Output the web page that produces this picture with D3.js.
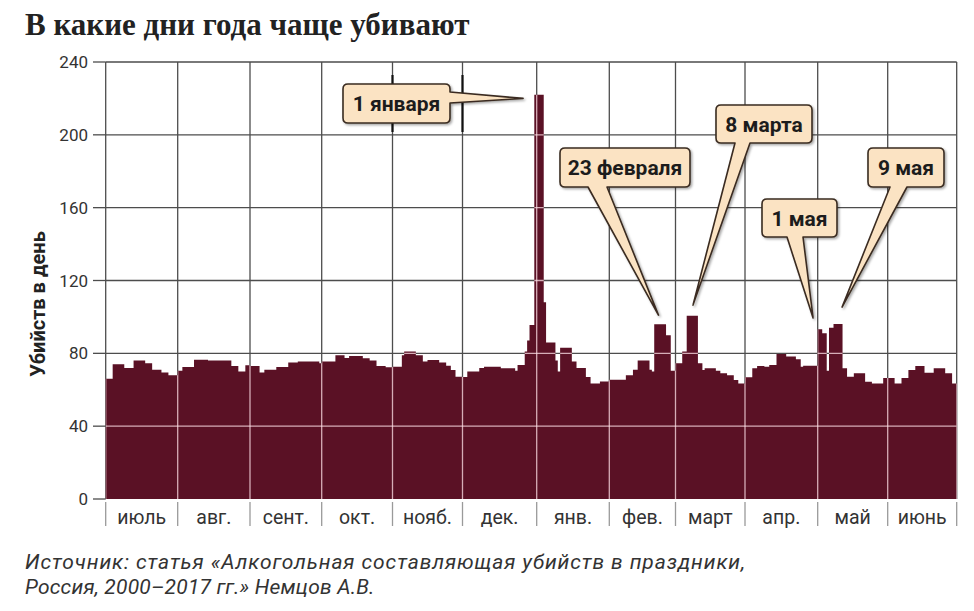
<!DOCTYPE html>
<html lang="ru">
<head>
<meta charset="UTF-8">
<title>В какие дни года чаще убивают</title>
<script src="https://d3js.org/d3.v7.min.js"></script>
<style>
  body { margin: 0; background: #fff; }
  svg text { font-family: Roboto, "Noto Sans", sans-serif; }
  svg text.title { font-family: "Liberation Serif", "DejaVu Serif", serif; }
</style>
</head>
<body>
<svg id="chart" width="974" height="611"></svg>
<script>
// подписи месяцев и число дней (год с июля по июнь)
const months = ["июль", "авг.", "сент.", "окт.", "нояб.", "дек.", "янв.", "фев.", "март", "апр.", "май", "июнь"];
const monthDays = [31, 31, 30, 31, 30, 31, 31, 28, 31, 30, 31, 30];
const yTicks = [0, 40, 80, 120, 160, 200, 240];

// убийств в день, по дням месяца
const jul = [66,66,66,74,74,74,74,74,72,72,72,72,76,76,76,76,76,74.5,74.5,74.5,71,71,71,71,69.5,69.5,69.5,68,68,68,68];
const aug = [70.5,70.5,72.5,72.5,72.5,72.5,72.5,76.5,76.5,76.5,76.5,76.5,76.5,76,76,76,76,76,76,76,76,76,76,73,73,73,70,70,70,73.5,73.5];
const sep = [73,73,73,73,69.5,69.5,71,71,71,71,71,72.5,72.5,72.5,72.5,72.5,75,75,75,75,75.5,75.5,75.5,75.5,75.5,75.5,75.5,75.5,75.5,74.5];
const oct = [75.5,75.5,75.5,75.5,75.5,75.5,79,79,79,79,77.5,77.5,78.5,78.5,78.5,78.5,78.5,78.5,77.3,77.3,77.3,76,76,76,73,73,73,73,72.3,72.3,72.3];
const nov = [72.7,72.7,72.7,72.7,79,81,81,81,81,81,79,79,79,75.5,75.5,76.3,76.3,76.3,76.3,76.3,75,75,75,73.2,73.2,70.8,70.8,67.2,67.2,67.2];
const dec = [67,67,70,70,70,70,70,72,72,72.7,72.7,72.7,72.7,72.7,72.7,72.7,71.8,71.8,71.8,71.8,71.8,71.8,70.5,73.6,73.6,73.6,81,87,95.6,95.6,222];
const jan = [222,222,222,108,86,86,86,86,76,70,83,83,83,83,83,75.5,75.5,72,72,72,72,67,67,63.5,63.5,63.5,63.5,64.5,64.5,64.5,64.5];
const feb = [65.5,65.5,65.5,65.5,65.5,65.5,65.5,68,68,68,71,71,76,76,76,76,76,71,70,96,96,96,96,96,90,90,70.5,70.5];
const mar = [74.5,74.5,74.5,81,81,100.7,100.7,100.7,100.7,100.7,74.5,74.5,70.8,71.8,71.8,71.8,71.8,71.8,70.5,70.5,69,69,69,68,68,68,65.4,65.4,63.5,63.5,63.5];
const apr = [66.8,66.8,66.8,71.8,71.8,73,73,73,72.7,72.7,73.6,73.6,73.6,79.6,79.6,79.6,79.6,78.2,78.2,78.2,78.2,76.7,76.7,72.7,73.2,73.2,73.2,73.2,73.2,73.2];
const may = [93.2,93.2,91,91,70.5,94.1,94.1,96.1,96.1,96.1,96.1,71.8,71.8,67.2,67.2,67.2,69,69,69,69,69,64.4,64.4,64.4,63.5,63.5,63.5,63.5,63.5,66.4,66.4];
const jun = [66.4,66.4,66.4,63.5,63.5,63.5,66.4,66.4,66.4,70.8,70.8,70.8,73,73,73,73,69.4,69.4,69.4,69.4,71.8,71.8,71.8,71.8,71.8,69,69,69,63.5,63.5];

// выноски: подпись, день (от 1 июля) и значение, куда указывает хвост
const noteLabels = ["1 января", "23 февраля", "8 марта", "1 мая", "9 мая"];
const noteDays = [178.3, 235.8, 250.8, 302.1, 314.8];
const noteValues = [220, 101, 106.5, 99.4, 105.4];

// раскладка
const plot = {left: 105.7, right: 956.7, top: 62, bottom: 499};
// края месяцев на исходной картинке немного неравномерны
const monthEdgePx = [105.7, 177.7, 250, 321.7, 392.5, 462.5, 536.7, 609.3, 675.5, 745, 817.7, 887.7, 956.7];
const noteBoxes = [
  {x0: 343, y0: 84, x1: 450, y1: 123, side: "right", b0: 92, b1: 103},
  {x0: 560, y0: 148, x1: 690, y1: 187, side: "bottom", b0: 588, b1: 607},
  {x0: 716, y0: 105, x1: 812, y1: 143, side: "bottom", b0: 735, b1: 750},
  {x0: 762, y0: 199, x1: 837, y1: 237, side: "bottom", b0: 787, b1: 803},
  {x0: 868, y0: 148, x1: 944, y1: 187, side: "bottom", b0: 890, b1: 907}
];

const barColor = "#5a1125";
const gridColor = "#4d4d4d";

const values = [jul, aug, sep, oct, nov, dec, jan, feb, mar, apr, may, jun].flat();
const edgesDays = [0];
monthDays.forEach(d => edgesDays.push(edgesDays[edgesDays.length - 1] + d));

const x = d3.scaleLinear().domain(edgesDays).range(monthEdgePx);
const y = d3.scaleLinear().domain([0, 240]).range([plot.bottom, plot.top]);

const svg = d3.select("#chart");
const defs = svg.append("defs");

const f = defs.append("filter").attr("id", "shadow")
  .attr("x", "-20%").attr("y", "-20%").attr("width", "140%").attr("height", "140%");
f.append("feDropShadow").attr("dx", 1.5).attr("dy", 1.5).attr("stdDeviation", 1.2)
  .attr("flood-color", "#000").attr("flood-opacity", 0.35);

// ступенчатая площадь по дням
const stepData = values.concat([values[values.length - 1]]);
const area = d3.area()
  .x((d, i) => x(i))
  .y0(y(0))
  .y1(d => y(d))
  .curve(d3.curveStepAfter);

defs.append("clipPath").attr("id", "barsClip")
  .append("path").attr("d", area(stepData));

function drawGrid(g, color, width) {
  g.selectAll(".h").data(yTicks.filter(t => t > 0)).join("line")
    .attr("x1", plot.left).attr("x2", plot.right)
    .attr("y1", d => y(d)).attr("y2", d => y(d))
    .attr("stroke", color).attr("stroke-width", width);
  g.selectAll(".v").data(edgesDays).join("line")
    .attr("x1", d => x(d)).attr("x2", d => x(d))
    .attr("y1", plot.top).attr("y2", plot.bottom)
    .attr("stroke", color).attr("stroke-width", width);
}

drawGrid(svg.append("g"), gridColor, 1.3);

svg.append("path")
  .attr("d", area(stepData))
  .attr("fill", barColor);

drawGrid(svg.append("g").attr("clip-path", "url(#barsClip)"), "rgba(255,225,232,0.75)", 1.3);

// ось Y
const yAxis = svg.append("g");
yAxis.selectAll("line").data(yTicks).join("line")
  .attr("x1", 93).attr("x2", plot.left)
  .attr("y1", d => y(d)).attr("y2", d => y(d))
  .attr("stroke", gridColor).attr("stroke-width", 1.3);
yAxis.selectAll("text").data(yTicks).join("text")
  .attr("x", 88).attr("y", d => y(d) + 6)
  .attr("text-anchor", "end")
  .attr("font-size", 17).attr("fill", "#333")
  .text(d => d);

svg.append("text")
  .attr("transform", "translate(45,304) rotate(-90)")
  .attr("text-anchor", "middle")
  .attr("font-size", 20).attr("font-weight", "bold").attr("fill", "#222")
  .text("Убийств в день");

// подписи месяцев
const xAxis = svg.append("g");
xAxis.selectAll("line").data(edgesDays).join("line")
  .attr("x1", d => x(d)).attr("x2", d => x(d))
  .attr("y1", plot.bottom + 3).attr("y2", plot.bottom + 27)
  .attr("stroke", "#9a9a9a").attr("stroke-width", 1.3);
xAxis.selectAll("text").data(months).join("text")
  .attr("x", (d, i) => (x(edgesDays[i]) + x(edgesDays[i + 1])) / 2)
  .attr("y", plot.bottom + 25)
  .attr("text-anchor", "middle")
  .attr("font-size", 19.5).attr("fill", "#333")
  .text(d => d);

// тёмные отрезки сетки у выноски «1 января»
svg.selectAll(".mark").data([edgesDays[4], edgesDays[5]]).join("line")
  .attr("x1", d => x(d)).attr("x2", d => x(d))
  .attr("y1", 75).attr("y2", 132)
  .attr("stroke", "#111").attr("stroke-width", 2.2);

// выноски
function calloutPath(b, tx, ty) {
  const r = 5;
  const top = `M${b.x0 + r},${b.y0}H${b.x1 - r}Q${b.x1},${b.y0} ${b.x1},${b.y0 + r}`;
  const left = `H${b.x0 + r}Q${b.x0},${b.y1} ${b.x0},${b.y1 - r}V${b.y0 + r}Q${b.x0},${b.y0} ${b.x0 + r},${b.y0}Z`;
  if (b.side === "right") {
    return top + `V${b.b0}L${tx},${ty}L${b.x1},${b.b1}V${b.y1 - r}Q${b.x1},${b.y1} ${b.x1 - r},${b.y1}` + left;
  }
  return top + `V${b.y1 - r}Q${b.x1},${b.y1} ${b.x1 - r},${b.y1}H${b.b1}L${tx},${ty}L${b.b0},${b.y1}` + left;
}

const notes = svg.append("g");
noteLabels.forEach((label, i) => {
  const b = noteBoxes[i];
  const g = notes.append("g");
  g.append("path")
    .attr("d", calloutPath(b, x(noteDays[i]), y(noteValues[i])))
    .attr("fill", "#fbe3c3")
    .attr("stroke", "#3a2c20").attr("stroke-width", 1.6)
    .attr("stroke-linejoin", "round")
    .attr("filter", "url(#shadow)");
  g.append("text")
    .attr("x", (b.x0 + b.x1) / 2)
    .attr("y", (b.y0 + b.y1) / 2 + 7.5)
    .attr("text-anchor", "middle")
    .attr("font-size", 21).attr("font-weight", "bold").attr("fill", "#1c1c1c")
    .text(label);
});

// заголовок и источник
svg.append("text")
  .attr("class", "title")
  .attr("x", 25).attr("y", 35)
  .attr("font-size", 31).attr("font-weight", "bold").attr("fill", "#222")
  .text("В какие дни года чаще убивают");

const src = svg.append("text")
  .attr("font-size", 21).attr("font-style", "italic").attr("fill", "#333");
src.append("tspan").attr("x", 25).attr("y", 569).attr("letter-spacing", 0.9)
  .text("Источник: статья «Алкогольная составляющая убийств в праздники,");
src.append("tspan").attr("x", 25).attr("y", 594).attr("letter-spacing", 0.2)
  .text("Россия, 2000–2017 гг.» Немцов А.В.");
</script>
</body>
</html>
